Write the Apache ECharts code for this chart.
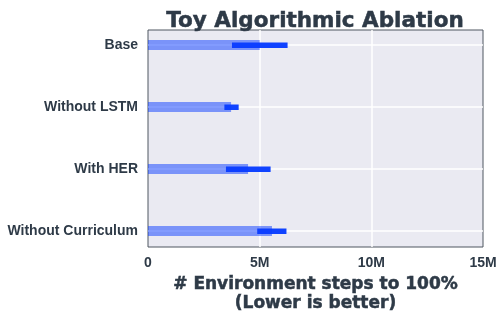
<!DOCTYPE html>
<html>
<head>
<meta charset="utf-8">
<script src="https://cdn.jsdelivr.net/npm/echarts@6/dist/echarts.min.js"></script>
<style>
  html, body { margin: 0; padding: 0; background: #fff; }
  #chart { width: 503px; height: 320px; }
</style>
</head>
<body>
<div id="chart"></div>
<script>
// data
const categories = ['Base', 'Without LSTM', 'With HER', 'Without Curriculum']
const meanSteps = [5.0e6, 3.72e6, 4.48e6, 5.55e6]
const lowSteps = [3.76e6, 3.42e6, 3.49e6, 4.89e6]
const highSteps = [6.25e6, 4.06e6, 5.49e6, 6.2e6]
const xTicks = [0, 5e6, 10e6, 15e6]

const textColor = '#2e3a47'
const labelFont = 'Liberation Sans'

const chart = echarts.init(document.getElementById('chart'))

const option = {
  animation: false,
  title: {
    text: 'Toy Algorithmic Ablation',
    left: 310,
    top: 5,
    textAlign: 'center',
    textStyle: {
      fontFamily: 'DejaVu Sans',
      fontWeight: 'bold',
      fontSize: 21.5,
      color: textColor,
      textBorderColor: textColor,
      textBorderWidth: 0.5
    }
  },
  grid: [
    // outer box: background, border, x grid lines
    { left: 148, right: 20, top: 30, bottom: 73, show: true, backgroundColor: '#eaeaf2', borderColor: '#4f5660', borderWidth: 1 },
    // inner: categories placed on edges so the padding matches
    { left: 148, right: 20, top: 45, bottom: 89 }
  ],
  xAxis: [
    {
      gridIndex: 0,
      type: 'value',
      min: xTicks[0],
      max: xTicks[xTicks.length - 1],
      interval: 5e6,
      axisLine: { show: false },
      axisTick: { show: false },
      splitLine: { show: true, showMinLine: false, showMaxLine: false, lineStyle: { color: '#ffffff', width: 1.5 } },
      axisLabel: {
        margin: 9,
        color: textColor,
        fontFamily: labelFont,
        fontWeight: 'bold',
        fontSize: 14,
        formatter: v => v === 0 ? '0' : (v / 1e6) + 'M'
      },
      name: '# Environment steps to 100%\n(Lower is better)',
      nameLocation: 'middle',
      nameGap: 26,
      nameTextStyle: {
        color: textColor,
        fontFamily: 'DejaVu Sans',
        fontWeight: 'bold',
        fontSize: 17,
        lineHeight: 19,
        verticalAlign: 'top',
        textBorderColor: textColor,
        textBorderWidth: 0.5
      }
    },
    {
      gridIndex: 1,
      type: 'value',
      min: xTicks[0],
      max: xTicks[xTicks.length - 1],
      show: false
    }
  ],
  yAxis: [
    { gridIndex: 0, type: 'value', show: false },
    {
      gridIndex: 1,
      type: 'category',
      data: categories,
      inverse: true,
      boundaryGap: false,
      axisLine: { show: false },
      axisTick: { show: false },
      splitLine: { show: true, lineStyle: { color: '#ffffff', width: 1.5 } },
      axisLabel: {
        margin: 10,
        color: textColor,
        fontFamily: labelFont,
        fontWeight: 'bold',
        fontSize: 14
      }
    }
  ],
  series: [
    {
      type: 'bar',
      xAxisIndex: 1,
      yAxisIndex: 1,
      barWidth: 10,
      itemStyle: { color: 'rgba(10, 60, 255, 0.5)' },
      data: meanSteps
    },
    {
      type: 'custom',
      xAxisIndex: 1,
      yAxisIndex: 1,
      data: categories.map((c, i) => [lowSteps[i], highSteps[i], i]),
      encode: { x: [0, 1], y: 2 },
      renderItem: (params, api) => {
        const start = api.coord([api.value(0), api.value(2)])
        const end = api.coord([api.value(1), api.value(2)])
        return {
          type: 'rect',
          shape: { x: start[0], y: start[1] - 2.5, width: end[0] - start[0], height: 5.5 },
          style: { fill: '#1043ff' }
        }
      }
    }
  ]
}

chart.setOption(option)
</script>
</body>
</html>
